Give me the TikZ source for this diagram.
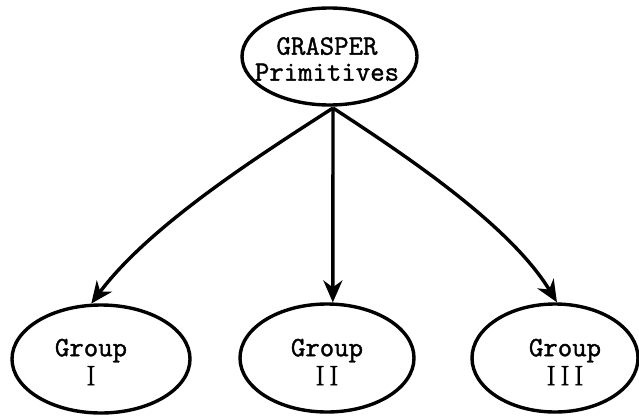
\documentclass[tikz,border=0pt]{standalone}
\usepackage{fontspec}
\newfontfamily\typew[FakeBold=1.4]{Latin Modern Mono}
\newfontfamily\numf[FakeBold=1.4]{Latin Modern Roman}
\usetikzlibrary{shapes.geometric,arrows.meta}
\begin{document}
\begin{tikzpicture}[x=1pt,y=-1pt,
  oval/.style={draw,ellipse,line width=3.4pt,inner sep=0pt},
  lbl/.style={align=center,font=\typew\fontsize{28}{26}\selectfont,inner sep=0pt},
  glbl/.style={align=center,font=\typew\fontsize{28}{29}\selectfont,inner sep=0pt},
  arr/.style={line width=3.4pt,-{Stealth[length=22pt,width=19pt,inset=7pt]}}]
\useasboundingbox (0,0) rectangle (639,415);
\node[oval,minimum width=175pt,minimum height=97pt] (top) at (329.5,56.5) {};
\node[lbl] (toptxt) at (327,59) {GRASPER\\Primitives};
\node[oval,minimum width=178pt,minimum height=108pt] (g1) at (101,359) {};
\node[glbl] (g1txt) at (91,362) {Group\\{\numf I}};
\node[oval,minimum width=174pt,minimum height=108pt] (g2) at (327,358) {};
\node[glbl] (g2txt) at (327,362) {Group\\{\numf I\,I}};
\node[oval,minimum width=166pt,minimum height=108pt] (g3) at (555,358) {};
\node[glbl] (g3txt) at (565,362) {Group\\{\numf I\,I\,I}};
\coordinate (src) at (333,108);
\draw[arr] (src) .. controls (260,155) and (150,225) .. (g1.100);
\draw[arr] (src) -- (g2.84);
\draw[arr] (src) .. controls (405,155) and (510,225) .. (g3.88);
\end{tikzpicture}
\end{document}
